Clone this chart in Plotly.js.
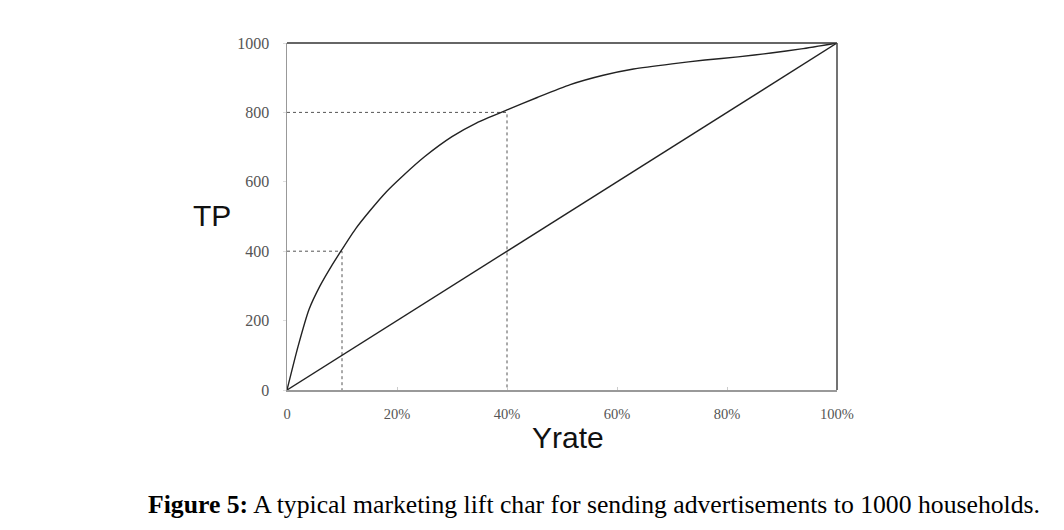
<!DOCTYPE html>
<html>
<head>
<meta charset="utf-8">
<script src="https://cdn.plot.ly/plotly-3.0.1.min.js"></script>
<style>
html,body{margin:0;padding:0;background:#fff;}
#chart{width:1064px;height:530px;}
</style>
</head>
<body>
<div id="chart"></div>
<script>
// Lift curve (x: Yrate fraction, y: TP)
var liftX = [0, 0.02, 0.04, 0.06, 0.08, 0.10, 0.125, 0.15, 0.18, 0.21, 0.25, 0.30, 0.345, 0.40, 0.455, 0.515, 0.575, 0.63, 0.70, 0.76, 0.82, 0.88, 0.935, 1.0];
var liftY = [0, 125, 232, 300, 355, 405, 465, 515, 570, 616, 672, 730, 770, 807, 843, 880, 907, 925, 940, 951, 960, 971, 983, 1000];
// Random (baseline) line
var baseX = [0, 1.0];
var baseY = [0, 1000];
// Guide lines
var guide1X = [0, 0.1, 0.1];
var guide1Y = [400, 400, 0];
var guide2X = [0, 0.4, 0.4];
var guide2Y = [800, 800, 0];
// Tick labels
var xTickVals = [0, 0.2, 0.4, 0.6, 0.8, 1.0];
var xTickText = ["0", "20%", "40%", "60%", "80%", "100%"];
var yTickVals = [0, 200, 400, 600, 800, 1000];

var guideLine = {color: '#555', width: 1, dash: 'dot'};
var traces = [
  {x: guide1X, y: guide1Y, mode: 'lines', line: guideLine, hoverinfo: 'skip'},
  {x: guide2X, y: guide2Y, mode: 'lines', line: guideLine, hoverinfo: 'skip'},
  {x: baseX, y: baseY, mode: 'lines', line: {color: '#222', width: 1.4}},
  {x: liftX, y: liftY, mode: 'lines', line: {color: '#222', width: 1.4, shape: 'spline', smoothing: 0.6}}
];

var serif = '"Liberation Serif", "Times New Roman", serif';
var titleFont = {family: 'Arial, "Liberation Sans", sans-serif', size: 30, color: '#111'};
var layout = {
  width: 1064, height: 530,
  margin: {l: 287, r: 227, t: 43, b: 140},
  paper_bgcolor: '#fff', plot_bgcolor: '#fff',
  showlegend: false,
  xaxis: {
    range: [0, 1.0], tickvals: xTickVals, ticktext: xTickText,
    showgrid: false, zeroline: false, showline: true, linecolor: '#999', linewidth: 1.5,
    ticks: 'inside', ticklen: 3, tickcolor: '#ccc', ticklabelstandoff: 10,
    tickfont: {family: serif, size: 14.5, color: '#555'}
  },
  yaxis: {
    range: [0, 1000], tickvals: yTickVals,
    showgrid: false, zeroline: false, showline: true, linecolor: '#999', linewidth: 1.5,
    ticks: 'outside', ticklen: 3, tickcolor: '#ddd', ticklabelstandoff: 10,
    tickfont: {family: serif, size: 16, color: '#555'}
  },
  shapes: [
    {type: 'line', xref: 'paper', yref: 'paper', x0: 0, x1: 1, y0: 1, y1: 1, line: {color: '#333', width: 1.5}},
    {type: 'line', xref: 'paper', yref: 'paper', x0: 1, x1: 1, y0: 0, y1: 1, line: {color: '#444', width: 1.5}}
  ],
  annotations: [
    {xref: 'paper', yref: 'paper', x: -0.136, y: 0.504, xanchor: 'center', yanchor: 'middle', showarrow: false,
     text: 'TP', font: titleFont},
    {xref: 'paper', yref: 'paper', x: 0.511, y: -0.137, xanchor: 'center', yanchor: 'middle', showarrow: false,
     text: 'Yrate', font: titleFont},
    {xref: 'paper', yref: 'paper', x: 0.558, y: -0.331, xanchor: 'center', yanchor: 'middle', showarrow: false,
     text: '<b>Figure 5:</b> A typical marketing lift char for sending advertisements to 1000 households.',
     font: {family: serif, size: 25.7, color: '#000'}}
  ]
};
Plotly.newPlot('chart', traces, layout, {displayModeBar: false, staticPlot: true});
</script>
</body>
</html>
